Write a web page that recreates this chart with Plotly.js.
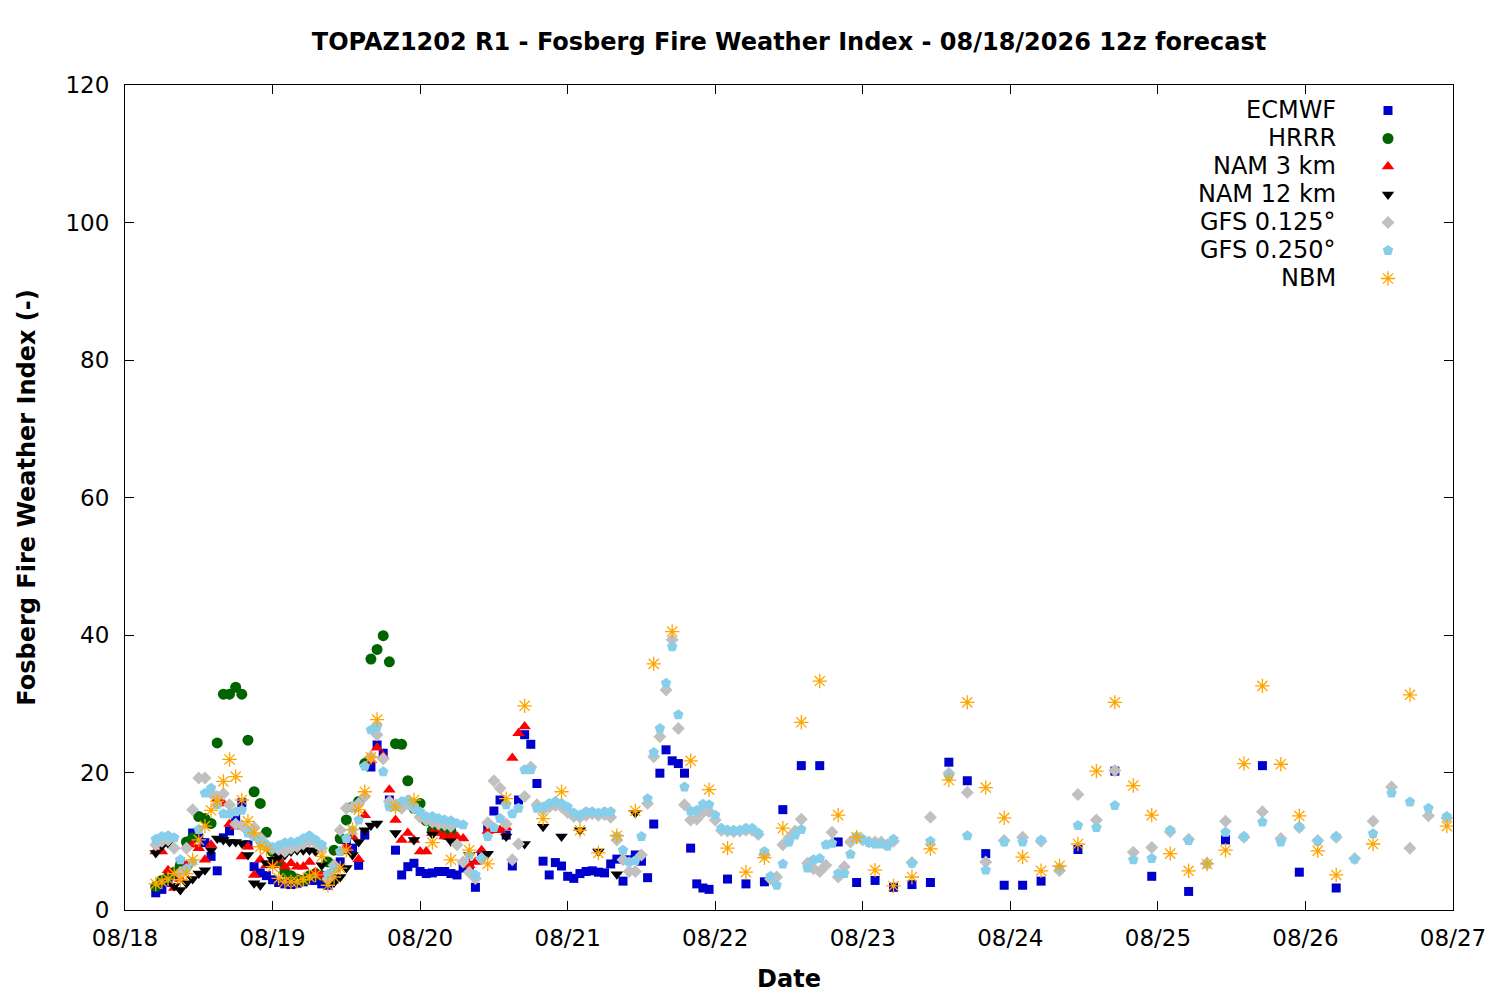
<!DOCTYPE html>
<html>
<head>
<meta charset="utf-8">
<script src="https://cdn.plot.ly/plotly-3.0.1.min.js"></script>
<style>
  body { margin: 0; background: #fff; }
  #chart { width: 1500px; height: 1000px; }
</style>
</head>
<body>
<div id="chart"></div>
<script>
// forecast hours counted from 08/18 00 local
const hrs = (a, b, step) => { const out = []; for (let h = a; h <= b; h += step) out.push(h); return out; };

const dayLabels = ['08/18', '08/19', '08/20', '08/21', '08/22', '08/23', '08/24', '08/25', '08/26', '08/27'];
const modelNames = ['ECMWF', 'HRRR', 'NAM 3 km', 'NAM 12 km', 'GFS 0.125°', 'GFS 0.250°', 'NBM'];

const ecmwfHours = [...hrs(5, 95, 1), ...hrs(98, 149, 3), ...hrs(155, 197, 6)];
const ecmwfFFWI = [
  2.5, 3.0, 4.0, 5.0, 7.0, 9.5, 11.2, 10.5, 9.8, 7.8,
  5.7, 10.5, 11.5, 13.5, 15.6, 9.5, 6.3, 5.4, 5.0, 4.4,
  4.0, 3.8, 3.7, 3.9, 4.1, 4.3, 4.3, 3.8, 3.6, 4.5,
  7.0, 10.2, 9.0, 6.5, 10.9, 20.8, 24.0, 22.8, 16.0, 8.7,
  5.1, 6.3, 6.8, 5.6, 5.3, 5.4, 5.6, 5.6, 5.3, 5.1,
  6.1, 6.5, 3.3, 8.0, 11.9, 14.4, 16.0, 10.9, 6.4, 16.0,
  25.5, 24.1, 18.4, 7.1, 5.1, 6.9, 6.4, 4.9, 4.6, 5.3,
  5.6, 5.7, 5.5, 5.4, 6.7, 7.4, 4.2, 7.3, 8.0, 7.1,
  4.7, 12.5, 19.9, 23.3, 21.7, 21.3, 19.9, 9.0, 3.8, 3.2, 3.0,
  4.5, 3.8, 4.1, 14.6, 21.0, 21.0, 9.9, 4.0, 4.3, 3.3, 3.7, 4.0, 21.5, 18.8, 8.2, 3.6, 3.6, 4.2,
  8.8, 20.2, 4.9, 2.7, 10.2, 21.0, 5.5, 3.2
];

const hrrrHours = hrs(5, 53, 1);
const hrrrFFWI = [
  3.4, 4.3, 4.8, 5.5, 6.5, 9.9, 10.5, 13.6, 13.3, 12.6,
  24.3, 31.4, 31.4, 32.4, 31.4, 24.7, 17.2, 15.5, 11.3, 8.5,
  7.0, 5.5, 5.0, 4.5, 4.3, 5.0, 5.3, 5.0, 7.0, 8.7,
  10.4, 13.1, 15.0, 15.8, 21.3, 36.5, 37.9, 39.9, 36.1, 24.2,
  24.1, 18.8, 14.8, 15.5, 13.0, 11.6, 11.8, 11.0, 11.5
];

const nam3Hours = hrs(5, 65, 1);
const nam3FFWI = [
  8.5, 8.5, 5.8, 3.2, 4.5, 6.5, 9.5, 9.0, 7.3, 9.5,
  16.2, 15.5, 12.5, 12.1, 7.8, 9.2, 5.1, 7.3, 6.5, 6.5,
  7.3, 6.3, 6.8, 6.3, 6.3, 7.0, 5.5, 5.0, 4.5, 6.0,
  8.5, 9.2, 10.7, 7.4, 13.8, 21.8, 23.6, 22.4, 17.5, 13.1,
  10.2, 11.2, 10.2, 8.5, 8.5, 11.2, 11.2, 10.7, 10.7, 10.7,
  10.4, 6.5, 7.0, 8.7, 11.5, 11.6, 11.6, 12.0, 22.1, 25.7, 26.7
];

const nam12Hours = [...hrs(5, 41, 1), ...hrs(44, 83, 3)];
const nam12FFWI = [
  8.3, 9.3, 9.7, 3.5, 2.9, 3.9, 4.5, 5.3, 5.8, 8.7,
  10.4, 10.2, 9.9, 9.9, 9.7, 8.0, 3.9, 3.6, 6.8, 7.3,
  7.8, 8.0, 8.5, 8.7, 8.7, 8.7, 8.5, 6.5, 4.2, 4.0,
  4.8, 6.1, 8.0, 9.9, 11.6, 12.3, 12.6,
  11.2, 10.2, 11.0, 10.0, 8.0, 8.2, 10.7, 9.6, 12.1, 10.7, 11.6, 8.5, 5.2, 14.1
];

const gfs125Hours = [...hrs(5, 125, 1), ...hrs(128, 215, 3)];
const gfs125FFWI = [
  9.5, 10.0, 10.2, 9.0, 5.5, 9.0, 14.6, 19.2, 19.2, 17.0,
  16.5, 16.9, 15.3, 12.5, 12.3, 11.5, 12.0, 10.5, 9.5, 9.0,
  8.8, 8.5, 9.0, 9.2, 9.6, 10.0, 9.8, 9.0, 4.5, 6.5,
  11.6, 14.8, 15.0, 15.5, 16.5, 22.3, 25.5, 22.0, 15.8, 15.3,
  14.8, 15.5, 14.8, 13.5, 13.1, 12.8, 12.5, 12.4, 12.2, 9.5,
  7.0, 5.5, 4.6, 7.5, 12.7, 18.8, 17.7, 12.5, 7.3, 9.6,
  16.5, 20.8, 15.3, 14.5, 15.0, 15.2, 15.0, 14.2, 13.6, 13.5,
  13.8, 14.0, 13.8, 13.9, 13.5, 10.2, 7.3, 5.6, 5.6, 8.0,
  15.5, 22.3, 25.2, 32.0, 39.3, 26.4, 15.3, 13.1, 13.2, 14.2,
  14.3, 13.1, 11.6, 11.5, 11.4, 11.5, 11.6, 11.6, 11.0, 8.0,
  4.5, 4.8, 9.5, 10.5, 11.5, 13.2, 6.8, 6.0, 5.6, 6.5,
  11.3, 4.8, 6.3, 9.9, 10.5, 10.2, 9.9, 9.9, 9.9, 9.5, 10.0,
  6.9, 13.5, 19.9, 17.1, 7.0, 10.1, 10.6, 10.0, 5.7, 16.8,
  13.1, 20.3, 8.4, 9.1, 11.4, 10.3, 6.8, 12.9, 10.6, 14.3,
  10.4, 12.0, 10.1, 10.6, 7.5, 12.9, 17.9, 9.0, 13.7, 13.4
];

const gfs250Hours = [...hrs(5, 125, 1), ...hrs(128, 215, 3)];
const gfs250FFWI = [
  10.3, 10.7, 10.8, 10.5, 7.3, 6.0, 7.0, 11.7, 17.0, 17.7,
  15.3, 14.0, 14.0, 14.3, 14.5, 11.2, 10.7, 9.9, 9.5, 9.1,
  9.4, 9.8, 9.9, 9.9, 10.4, 10.8, 10.2, 9.5, 5.2, 6.0,
  8.5, 10.4, 11.6, 13.1, 20.9, 26.2, 26.7, 20.1, 15.0, 15.0,
  15.8, 16.0, 15.0, 14.3, 13.6, 13.6, 13.3, 13.1, 13.0, 12.6,
  12.4, 8.0, 5.1, 7.5, 10.7, 12.0, 13.3, 15.3, 14.0, 14.8,
  20.4, 20.4, 14.8, 15.0, 15.5, 15.8, 15.5, 15.0, 14.1, 13.8,
  14.3, 14.3, 14.1, 14.3, 14.3, 10.7, 8.7, 7.0, 7.2, 10.7,
  16.2, 22.9, 26.4, 33.0, 38.3, 28.4, 17.9, 14.4, 14.5, 15.4,
  15.3, 13.8, 11.9, 11.6, 11.6, 11.6, 11.9, 11.9, 11.2, 8.5,
  4.9, 3.6, 6.7, 9.9, 10.9, 11.7, 6.1, 7.3, 7.5, 9.5,
  9.7, 5.3, 5.3, 8.1, 10.7, 10.3, 9.8, 9.6, 9.6, 9.3, 10.3,
  6.8, 10.0, 19.5, 10.8, 5.8, 9.9, 9.9, 10.2, 6.1, 12.3,
  12.0, 15.2, 7.3, 7.5, 11.6, 10.1, 6.7, 11.3, 10.7, 12.8,
  9.9, 12.1, 10.0, 10.7, 7.4, 11.1, 17.0, 15.7, 14.8, 13.6
];

const nbmHours = [...hrs(5, 41, 1), ...hrs(44, 197, 3), ...hrs(203, 215, 6)];
const nbmFFWI = [
  3.8, 4.1, 4.5, 5.3, 4.4, 5.3, 7.3, 10.2, 12.2, 14.5,
  15.8, 18.7, 21.9, 19.4, 16.0, 12.9, 11.2, 9.2, 8.8, 6.3,
  4.6, 4.1, 4.1, 4.1, 4.4, 4.8, 5.1, 7.8, 3.6, 4.8,
  6.1, 8.7, 11.7, 14.6, 17.2, 22.2, 27.7,
  15.0, 16.0, 9.8, 7.3, 8.7, 6.7, 16.2, 29.7, 13.3, 17.2,
  11.6, 8.3, 10.8, 14.4, 35.8, 40.5, 21.7, 17.5, 9.0, 5.5,
  7.6, 11.9, 27.3, 33.3, 13.8, 10.6, 5.8, 3.5, 4.8, 8.9,
  18.9, 30.2, 17.8, 13.4, 7.7, 5.7, 6.4, 9.6, 20.2, 30.2,
  18.1, 13.8, 8.2, 5.7, 6.7, 8.7, 21.3, 32.6, 21.2, 13.7,
  8.6, 5.1,
  9.6, 31.3, 12.2
];

const seriesHours = [ecmwfHours, hrrrHours, nam3Hours, nam12Hours, gfs125Hours, gfs250Hours, nbmHours];
const seriesValues = [ecmwfFFWI, hrrrFFWI, nam3FFWI, nam12FFWI, gfs125FFWI, gfs250FFWI, nbmFFWI];

// gnuplot-like point styles
const styles = [
  {symbol: 'square', color: '#0000cd', size: 9},
  {symbol: 'circle', color: '#006400', size: 11},
  {symbol: 'triangle-up', color: '#ff0000', size: 11},
  {symbol: 'triangle-down', color: '#000000', size: 11},
  {symbol: 'diamond', color: '#c0c0c0', size: 10},
  {symbol: 'pentagon', color: '#87ceeb', size: 11},
  {symbol: 'asterisk-open', color: '#ffa500', size: 12}
];

const data = modelNames.map((name, i) => ({
  type: 'scatter',
  mode: 'markers',
  name: name,
  legendgroup: name,
  x: seriesHours[i],
  y: seriesValues[i],
  marker: styles[i].symbol === 'asterisk-open'
    ? {symbol: styles[i].symbol, size: styles[i].size, color: styles[i].color, line: {color: styles[i].color, width: 1.3}}
    : {symbol: styles[i].symbol, size: styles[i].size, color: styles[i].color, line: {width: 0}}
}));

// legend text sits left of the symbols, as in gnuplot
const L = 125, R = 1453, T = 85, B = 910;
const rowGap = 28;
const legendRows = modelNames.map((name, i) => ({
  text: name,
  xref: 'paper', yref: 'paper',
  x: (1338 - L) / (R - L), xanchor: 'right',
  y: (B - (110 + i * rowGap)) / (B - T), yanchor: 'middle',
  showarrow: false,
  font: {family: 'DejaVu Sans', size: 24, color: '#000'}
}));

const axisStyle = {
  showline: true, linecolor: '#000', linewidth: 1, mirror: 'ticks',
  ticks: 'inside', ticklen: 9, tickcolor: '#000', tickwidth: 1,
  showgrid: false, zeroline: false, automargin: false,
  tickfont: {family: 'DejaVu Sans', size: 23, color: '#000'}
};

const boldFont = {family: 'DejaVu Sans', size: 24, weight: 'bold', color: '#000'};

const layout = {
  width: 1500, height: 1000,
  margin: {l: L, r: 1500 - R, t: T, b: 1000 - B},
  paper_bgcolor: '#fff', plot_bgcolor: '#fff',
  font: {family: 'DejaVu Sans', color: '#000'},
  title: {
    text: 'TOPAZ1202 R1 - Fosberg Fire Weather Index - 08/18/2026 12z forecast',
    font: boldFont,
    x: 0.5, xref: 'paper', y: 1 - 42 / 1000, yanchor: 'middle'
  },
  xaxis: Object.assign({}, axisStyle, {
    range: [0, 216],
    tickvals: hrs(0, 216, 24),
    ticktext: dayLabels,
    ticklabelstandoff: 7,
    title: {text: 'Date', font: boldFont, standoff: 20}
  }),
  yaxis: Object.assign({}, axisStyle, {
    range: [0, 120],
    dtick: 20,
    ticklabelstandoff: 10,
    title: {text: 'Fosberg Fire Weather Index (-)', font: boldFont, standoff: 23}
  }),
  showlegend: true,
  legend: {
    x: (1368 - L) / (R - L), xanchor: 'left',
    y: 1 - (96 - T) / (B - T), yanchor: 'top',
    bgcolor: 'rgba(0,0,0,0)',
    font: {family: 'DejaVu Sans', size: 1, color: 'rgba(0,0,0,0)'},
    tracegroupgap: rowGap - 19,
    itemsizing: 'trace'
  },
  annotations: legendRows
};

Plotly.newPlot('chart', data, layout, {displayModeBar: false, responsive: false});
</script>
</body>
</html>
